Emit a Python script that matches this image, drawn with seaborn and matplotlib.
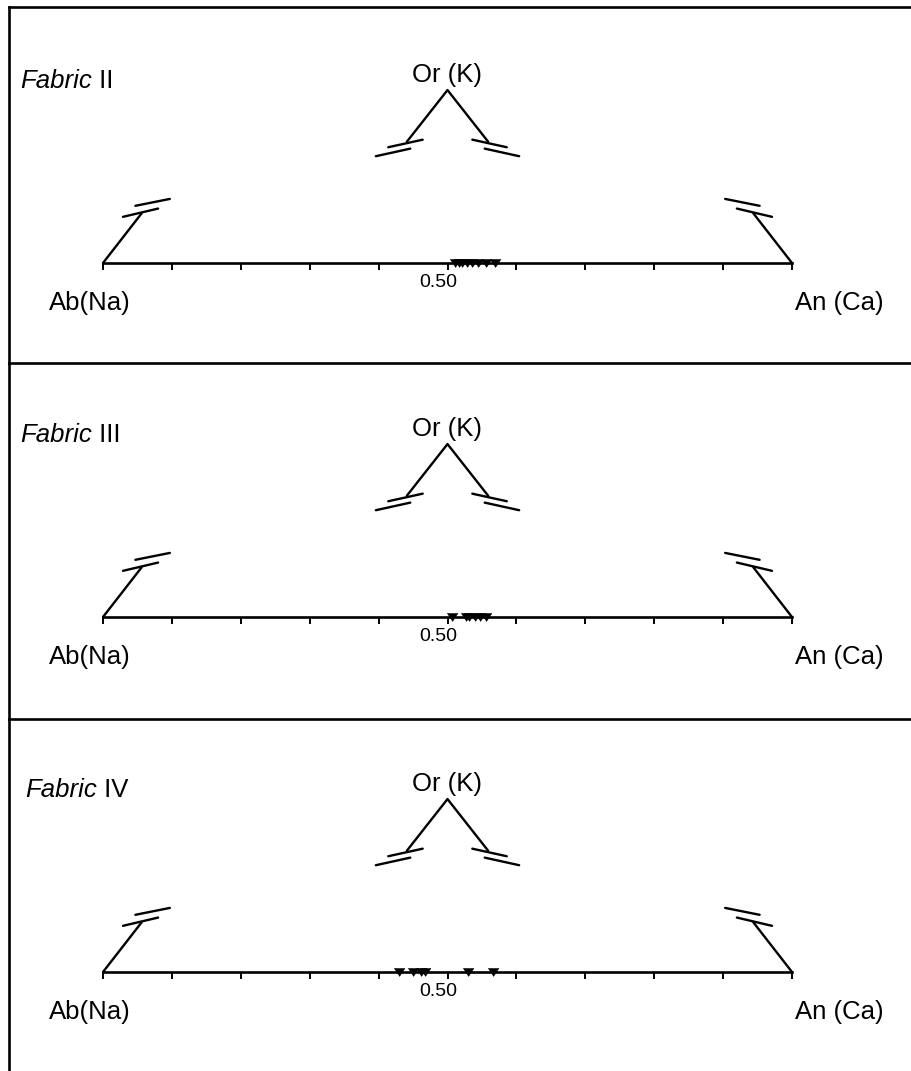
import numpy as np
import pandas as pd
import matplotlib
matplotlib.use('Agg')
import matplotlib.pyplot as plt
import matplotlib.transforms as mtransforms
import seaborn as sns

sns.set_style('white')
plt.rcParams['font.family'] = ['Liberation Sans', 'DejaVu Sans']
plt.rcParams['text.color'] = 'black'
plt.rcParams['xtick.color'] = 'black'

# Ab-An position of each analysed feldspar (fraction of An along the base)
fabric_names = ['II', 'III', 'IV']
an_fabric_2 = [0.511, 0.516, 0.521, 0.528, 0.536, 0.544, 0.556, 0.569]
an_fabric_3 = [0.507, 0.527, 0.531, 0.540, 0.547, 0.556]
an_fabric_4 = [0.429, 0.450, 0.462, 0.467, 0.530, 0.566]
tick_values = np.round(np.arange(0, 1.01, 0.1), 2)
tick_labels = ['0.50' if abs(t - 0.5) < 1e-9 else '' for t in tick_values]

W, H = 911, 1071
PX = 689.0          # pixels per unit of the base
X0 = 103.0          # pixel of the Ab corner
FRAME_L = 9.0
panels = [(7, 363, 256), (363, 719, 254), (719, 1071, 253)]  # top, bottom, baseline offset
label_x = [-0.120, -0.120, -0.113]

fig = plt.figure(figsize=(W / 100, H / 100), dpi=100)

# broken-edge ternary frame (truncated triangle)
apex = (0.5, 0.251)
corner_arm = (0.056, 0.072)
break_l = [((0.029, 0.067), (0.080, 0.079)), ((0.047, 0.083), (0.097, 0.093))]
break_top = [((0.396, 0.155), (0.446, 0.166)), ((0.414, 0.168), (0.464, 0.179))]

lw = 1.7
for i, (an, name) in enumerate(zip([an_fabric_2, an_fabric_3, an_fabric_4], fabric_names)):
    top, bot, off = panels[i]
    ax = fig.add_axes([FRAME_L / W, 1 - bot / H, (W - FRAME_L) / W, (bot - top) / H])
    ax.set_xlim((FRAME_L - X0) / PX, (W - X0) / PX)
    ax.set_ylim(-(bot - top - off) / PX, off / PX)

    # frame: top + left only
    ax.spines['right'].set_visible(False)
    for s in ['top', 'left']:
        ax.spines[s].set_linewidth(1.9)
        ax.spines[s].set_color('black')
    ax.spines['bottom'].set_position(('data', 0))
    ax.spines['bottom'].set_bounds(0, 1)
    ax.spines['bottom'].set_linewidth(1.9)
    ax.spines['bottom'].set_color('black')
    ax.set_yticks([])
    ax.set_xticks(tick_values)
    ax.set_xticklabels(tick_labels, fontsize=14)
    ax.tick_params(axis='x', bottom=True, direction='out', length=5, width=1.4, pad=3,
                   color='black', labelcolor='black')
    shift = mtransforms.ScaledTranslation(-9 / 100, 0, fig.dpi_scale_trans)
    for lab in ax.get_xticklabels():
        lab.set_transform(lab.get_transform() + shift)
    ax.patch.set_alpha(0)

    # triangle sides
    ax.plot([0, corner_arm[0]], [0, corner_arm[1]], color='black', lw=lw)
    ax.plot([1, 1 - corner_arm[0]], [0, corner_arm[1]], color='black', lw=lw)
    ax.plot([apex[0] - 0.059, apex[0], apex[0] + 0.059],
            [apex[1] - 0.075, apex[1], apex[1] - 0.075], color='black', lw=lw)
    for (p, q) in break_l:
        ax.plot([p[0], q[0]], [p[1], q[1]], color='black', lw=lw)
        ax.plot([1 - p[0], 1 - q[0]], [p[1], q[1]], color='black', lw=lw)
    for (p, q) in break_top:
        ax.plot([p[0], q[0]], [p[1], q[1]], color='black', lw=lw)
        ax.plot([1 - p[0], 1 - q[0]], [p[1], q[1]], color='black', lw=lw)

    df = pd.DataFrame({'An': an, 'y': np.zeros(len(an))})
    sns.scatterplot(data=df, x='An', y='y', ax=ax, color='black',
                    marker=[(-1, 0.75), (1, 0.75), (0, -0.75)], s=62,
                    edgecolor='black', linewidth=0.3, zorder=5, clip_on=False)
    ax.set_xlabel('')
    ax.set_ylabel('')

    ax.text(0.5, 0.263, 'Or (K)', ha='center', va='baseline', fontsize=18.5)
    ax.text(-0.0196, -0.068, 'Ab(Na)', ha='center', va='baseline', fontsize=18.5)
    ax.text(1.068, -0.068, 'An (Ca)', ha='center', va='baseline', fontsize=18.5)
    t = ax.text(label_x[i], 0.254, 'Fabric', style='italic', ha='left', va='baseline', fontsize=18.5)
    ax.annotate(' ' + name, xy=(1, 0), xycoords=t, va='bottom', ha='left', fontsize=18.5)

fig.savefig('out.png', dpi=100)
